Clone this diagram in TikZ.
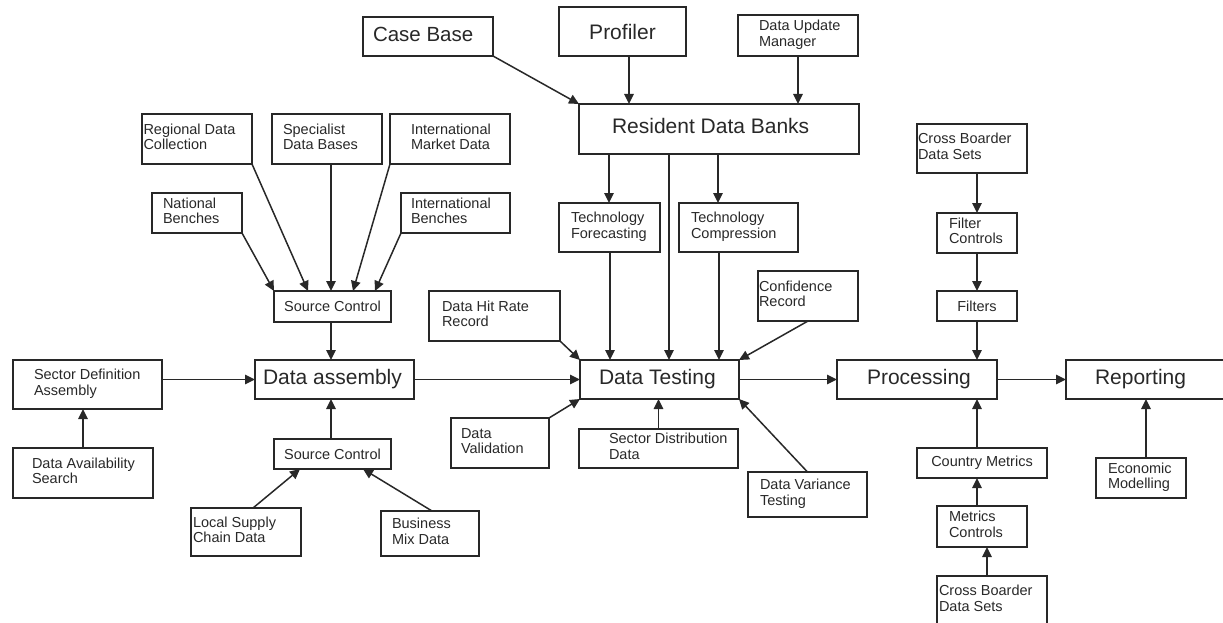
\documentclass[tikz,border=0pt]{standalone}
\usepackage{fontspec}
\setmainfont{Liberation Sans}
\usetikzlibrary{arrows.meta,calc}
\definecolor{ink}{RGB}{40,40,40}
\newcommand{\smallft}{\fontsize{14.5pt}{15.5pt}\selectfont}
\newcommand{\bigft}{\fontsize{21pt}{24pt}\selectfont}
\newcommand{\bt}[3]{\makebox[#1][l]{\hspace*{#2}\begin{tabular}{@{}l@{}}#3\end{tabular}}}
\begin{document}
\begin{tikzpicture}[x=1pt,y=-1pt,
  box/.style={draw=ink, line width=1.5pt, inner sep=0pt, outer sep=0pt, anchor=north west, text=ink, font=\smallft},
  bigbox/.style={box, font=\bigft},
  arr/.style={draw=ink, line width=1.5pt, -{Triangle[length=10pt,width=9.5pt]}}]
\useasboundingbox (0,0) rectangle (1223,623);
% top
\node[bigbox, font=\fontsize{20.5pt}{24pt}\selectfont, minimum width=130pt, minimum height=39pt] (cb) at (363,17) {\bt{130pt}{10pt}{Case Base}};
\node[bigbox, minimum width=127pt, minimum height=49pt] (prof) at (559,7) {Profiler};
\node[box, minimum width=120pt, minimum height=41pt] (dum) at (738,15) {\bt{120pt}{21pt}{Data Update\\Manager}};
\node[bigbox, minimum width=280pt, minimum height=50pt] (rdb) at (579,104) {\bt{280pt}{33pt}{Resident Data Banks}};
% source control group
\node[box, minimum width=110pt, minimum height=50pt] (rdc) at (142,114) {\bt{110pt}{1.5pt}{Regional Data\\Collection}};
\node[box, minimum width=110pt, minimum height=50pt] (sdb) at (272,114) {\bt{110pt}{11pt}{Specialist\\Data Bases}};
\node[box, minimum width=120pt, minimum height=50pt] (imd) at (390,114) {\bt{120pt}{21pt}{International\\Market Data}};
\node[box, minimum width=90pt, minimum height=40pt] (nb) at (152,193) {\bt{90pt}{11pt}{National\\Benches}};
\node[box, minimum width=109pt, minimum height=40pt] (ib) at (401,193) {\bt{109pt}{10pt}{International\\Benches}};
\node[box, minimum width=117pt, minimum height=31pt] (sc1) at (274,291) {Source Control};
% testing group
\node[box, minimum width=101pt, minimum height=49pt] (tf) at (559,203) {\bt{101pt}{12pt}{Technology\\Forecasting}};
\node[box, minimum width=119pt, minimum height=49pt] (tc) at (679,203) {\bt{119pt}{12pt}{Technology\\Compression}};
\node[box, minimum width=131pt, minimum height=50pt] (dhr) at (429,291) {\bt{131pt}{13pt}{Data Hit Rate\\Record}};
\node[box, minimum width=100pt, minimum height=50pt] (conf) at (758,271) {\bt{100pt}{1pt}{Confidence\\Record}};
\node[bigbox, minimum width=159pt, minimum height=39pt] (dt) at (580,360) {\bt{159pt}{19pt}{Data Testing}};
\node[bigbox, minimum width=159pt, minimum height=39pt] (da) at (255,360) {\bt{159pt}{8pt}{Data assembly}};
\node[box, minimum width=149pt, minimum height=49pt] (sda) at (13,360) {\bt{149pt}{21pt}{Sector Definition\\Assembly}};
\node[box, minimum width=140pt, minimum height=50pt] (das) at (13,448) {\bt{140pt}{19pt}{Data Availability\\Search}};
\node[box, minimum width=117pt, minimum height=30pt] (sc2) at (274,439) {Source Control};
\node[box, minimum width=110pt, minimum height=48pt] (lsc) at (191,508) {\bt{110pt}{2pt}{Local Supply\\Chain Data}};
\node[box, minimum width=98pt, minimum height=45pt] (bm) at (381,511) {\bt{98pt}{11pt}{Business\\Mix Data}};
\node[box, minimum width=98pt, minimum height=50pt] (dv) at (451,418) {\bt{98pt}{10pt}{Data\\Validation}};
\node[box, minimum width=159pt, minimum height=39pt] (sdd) at (579,429) {\bt{159pt}{30pt}{Sector Distribution\\Data}};
\node[box, minimum width=119pt, minimum height=45pt] (dvt) at (748,472) {\bt{119pt}{12pt}{Data Variance\\Testing}};
% processing group
\node[bigbox, minimum width=160pt, minimum height=39pt] (proc) at (837,360) {\bt{160pt}{30pt}{Processing}};
\node[bigbox, minimum width=180pt, minimum height=39pt] (rep) at (1066,360) {\bt{180pt}{29pt}{Reporting}};
\node[box, minimum width=110pt, minimum height=49pt] (cbt) at (917,124) {\bt{110pt}{1pt}{Cross Boarder\\Data Sets}};
\node[box, minimum width=80pt, minimum height=40pt] (fc) at (937,213) {\bt{80pt}{12pt}{Filter\\Controls}};
\node[box, minimum width=80pt, minimum height=30pt] (fil) at (937,291) {Filters};
\node[box, minimum width=130pt, minimum height=30pt] (cm) at (917,448) {Country Metrics};
\node[box, minimum width=90pt, minimum height=41pt] (mc) at (937,506) {\bt{90pt}{12pt}{Metrics\\Controls}};
\node[box, minimum width=110pt, minimum height=49pt] (cbb) at (937,576) {\bt{110pt}{2pt}{Cross Boarder\\Data Sets}};
\node[box, minimum width=90pt, minimum height=40pt] (em) at (1096,458) {\bt{90pt}{12pt}{Economic\\Modelling}};
% connectors: source control
\coordinate (s1a) at ([xshift=34pt]sc1.north west);
\coordinate (s1b) at ([xshift=-1.5pt]sc1.north);
\coordinate (s1c) at ([xshift=20.5pt]sc1.north);
\coordinate (s1d) at ([xshift=42.5pt]sc1.north);
\draw[arr] (nb.south east) -- (sc1.north west);
\draw[arr] (rdc.south east) -- (s1a);
\draw[arr] (s1b |- sdb.south) -- (s1b);
\draw[arr] (imd.south west) -- (s1c);
\draw[arr] (ib.south west) -- (s1d);
\draw[arr] (s1b |- sc1.south) -- (s1b |- da.north);
% resident data banks
\coordinate (pr) at ([xshift=6.5pt]prof.south);
\draw[arr] (cb.south east) -- (rdb.north west);
\draw[arr] (pr) -- (pr |- rdb.north);
\draw[arr] (dum.south) -- (dum.south |- rdb.north);
\coordinate (tfx) at ([xshift=-0.5pt]tf.north);
\coordinate (dtm) at ([xshift=9.5pt]dt.north);
\coordinate (tcx) at ([xshift=-20.5pt]tc.north);
\draw[arr] (tfx |- rdb.south) -- (tfx);
\draw[arr] (dtm |- rdb.south) -- (dtm);
\draw[arr] (tcx |- rdb.south) -- (tcx);
\coordinate (tfy) at ([xshift=0.5pt]tf.south);
\coordinate (tcy) at ([xshift=-19.5pt]tc.south);
\draw[arr] (tfy) -- (tfy |- dt.north);
\draw[arr] (tcy) -- (tcy |- dt.north);
\draw[arr] (dhr.south east) -- (dt.north west);
\draw[arr] (conf.south) -- (dt.north east);
% main flow
\draw[arr] (da.east) -- (dt.west);
\draw[arr] (dt.east) -- (proc.west);
\draw[arr] (proc.east) -- (rep.west);
\draw[arr] (dv.north east) -- (dt.south west);
\draw[arr] (sdd.north) -- (sdd.north |- dt.south);
\draw[arr] (dvt.north) -- (dt.south east);
\draw[arr] (sda.east |- da.west) -- (da.west);
\draw[arr] (das.north) -- (das.north |- sda.south);
\draw[arr] (s1b |- sc2.north) -- (s1b |- da.south);
\coordinate (l1) at ([xshift=7pt]lsc.north);
\coordinate (l2) at ([xshift=26pt]sc2.south west);
\coordinate (b1) at ([xshift=2pt]bm.north);
\coordinate (b2) at ([xshift=-28pt]sc2.south east);
\draw[arr] (l1) -- (l2);
\draw[arr] (b1) -- (b2);
% processing side
\draw[arr] (fc.north |- cbt.south) -- (fc.north);
\draw[arr] (fc.south) -- (fil.north);
\draw[arr] (fil.south) -- (fil.south |- proc.north);
\draw[arr] (fil.south |- cm.north) -- (fil.south |- proc.south);
\draw[arr] (fil.south |- mc.north) -- (fil.south |- cm.south);
\coordinate (cbx) at ([xshift=-5pt]cbb.north);
\draw[arr] (cbx) -- (cbx |- mc.south);
\coordinate (emx) at ([xshift=5pt]em.north);
\draw[arr] (emx) -- (emx |- rep.south);
\end{tikzpicture}
\end{document}
